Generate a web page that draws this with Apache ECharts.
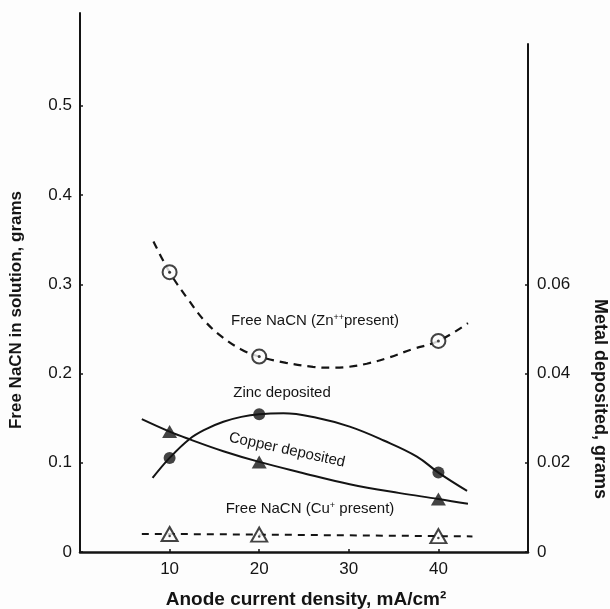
<!DOCTYPE html>
<html>
<head>
<meta charset="utf-8">
<script src="https://cdn.jsdelivr.net/npm/echarts@6/dist/echarts.min.js"></script>
<style>
html,body{margin:0;padding:0;background:#fdfdfd;}
#chart{width:610px;height:609px;}
</style>
</head>
<body>
<div id="chart"></div>
<script>
// ---- tick labels ----
const xTicks = [10, 20, 30, 40];
const leftTicks = [0, 0.1, 0.2, 0.3, 0.4, 0.5];
const rightTicks = [0, 0.02, 0.04, 0.06];

// ---- measured points (x = anode current density, mA/cm2) ----
const markX = [10, 20, 40];
const znFreeNaCN = [0.3136, 0.219, 0.2365];      // grams, left axis
const cuFreeNaCN = [0.0202, 0.0195, 0.0178];     // grams, left axis
const zincDeposited = [0.0211, 0.0309, 0.0178];  // grams, right axis
const copperDeposited = [0.0270, 0.0202, 0.0119];// grams, right axis

// ---- fitted curves as drawn ----
const znCurveX = [8.2, 10, 12, 14, 16, 18, 20, 23, 26, 28, 30, 32, 34.5, 37, 40, 43.3];
const znCurveY = [0.348, 0.3136, 0.284, 0.258, 0.240, 0.227, 0.219, 0.212, 0.2075, 0.2065, 0.2075, 0.211, 0.218, 0.227, 0.2365, 0.2564];
const cuCurveX = [6.9, 10, 20, 40, 43.8];
const cuCurveY = [0.0202, 0.0202, 0.0195, 0.0178, 0.0175];
const zincCurveX = [8.1, 10, 12.2, 14, 16, 18, 20, 22.7, 26.4, 30.1, 33.9, 37.6, 40, 43.2];
const zincCurveY = [0.0166, 0.0211, 0.0253, 0.0275, 0.0292, 0.0303, 0.0309, 0.0311, 0.0301, 0.0281, 0.0250, 0.0214, 0.0178, 0.0137];
const copperCurveX = [6.9, 10, 12.2, 16, 20, 24.5, 30.1, 35.7, 40, 43.3];
const copperCurveY = [0.0298, 0.0270, 0.0253, 0.0226, 0.0202, 0.0179, 0.0152, 0.0132, 0.0119, 0.0108];

const zip = (xs, ys) => xs.map((x, i) => [x, ys[i]]);
const INK = '#141414';
const FONT = '"Liberation Sans", Arial, Helvetica, sans-serif';

const chart = echarts.init(document.getElementById('chart'), null, {renderer: 'canvas'});

const baseAxisLine = {show: true, onZero: false, lineStyle: {color: INK, width: 2}};
const tickStyle = {show: true, inside: true, length: 3, lineStyle: {color: INK, width: 1.5}};

function txt(text, x, y, size, weight, rot, rich) {
  return {
    type: 'text', x: x, y: y, rotation: rot || 0, z: 50,
    style: {
      text: text, fill: INK,
      font: (weight || 'normal') + ' ' + size + 'px ' + FONT,
      fontFamily: FONT, fontSize: size, fontWeight: weight || 'normal',
      align: 'center', verticalAlign: 'middle',
      textAlign: 'center', textVerticalAlign: 'middle',
      rich: rich
    }
  };
}

const supRich = {
  s: {fontSize: 9, fontFamily: FONT, fill: INK, verticalAlign: 'top', lineHeight: 15}
};

const option = {
  backgroundColor: '#fdfdfd',
  animation: false,
  grid: [
    {left: 80, right: 82, top: 13, bottom: 57},
    {left: 80, right: 82, top: 44, bottom: 57}
  ],
  xAxis: [
    {
      gridIndex: 0, type: 'value', min: 0, max: 50, interval: 10,
      axisLine: {show: true, onZero: false, lineStyle: {color: INK, width: 2.5}},
      axisTick: Object.assign({}, tickStyle, {customValues: xTicks}),
      axisLabel: {customValues: xTicks, color: INK, fontSize: 17, fontFamily: FONT, margin: 9},
      splitLine: {show: false}
    },
    {gridIndex: 1, type: 'value', min: 0, max: 50, show: false,
     axisLine: {show: false, onZero: false}}
  ],
  yAxis: [
    {
      gridIndex: 0, type: 'value', position: 'left', min: 0, max: 0.604, interval: 0.1,
      axisLine: baseAxisLine,
      axisTick: Object.assign({}, tickStyle, {customValues: leftTicks}),
      axisLabel: {
        customValues: leftTicks, color: INK, fontSize: 17, fontFamily: FONT, margin: 8,
        formatter: v => (v === 0 ? '0' : v.toFixed(1))
      },
      splitLine: {show: false}
    },
    {
      gridIndex: 1, type: 'value', position: 'right', min: 0, max: 0.1139, interval: 0.02,
      axisLine: baseAxisLine,
      axisTick: Object.assign({}, tickStyle, {customValues: rightTicks}),
      axisLabel: {
        customValues: rightTicks, color: INK, fontSize: 17, fontFamily: FONT, margin: 9,
        formatter: v => (v === 0 ? '0' : v.toFixed(2))
      },
      splitLine: {show: false}
    }
  ],
  series: [
    // Free NaCN (Zn++ present) - dashed curve
    {type: 'line', xAxisIndex: 0, yAxisIndex: 0, data: zip(znCurveX, znCurveY), smooth: 0.4,
     showSymbol: false, symbol: 'none', lineStyle: {color: INK, width: 2.2, type: [8, 6]}, z: 2},
    {type: 'scatter', xAxisIndex: 0, yAxisIndex: 0, data: zip(markX, znFreeNaCN), symbol: 'circle',
     symbolSize: 14, itemStyle: {color: '#fdfdfd', borderColor: INK, borderWidth: 2}, z: 5},
    {type: 'scatter', xAxisIndex: 0, yAxisIndex: 0, data: zip(markX, znFreeNaCN), symbol: 'circle',
     symbolSize: 3, itemStyle: {color: INK}, z: 6},
    // Free NaCN (Cu+ present) - dashed line
    {type: 'line', xAxisIndex: 0, yAxisIndex: 0, data: zip(cuCurveX, cuCurveY), smooth: false,
     showSymbol: false, symbol: 'none', lineStyle: {color: INK, width: 2, type: [7, 6]}, z: 2},
    {type: 'scatter', xAxisIndex: 0, yAxisIndex: 0, data: zip(markX, cuFreeNaCN), symbol: 'triangle',
     symbolSize: [16, 14], itemStyle: {color: '#fdfdfd', borderColor: INK, borderWidth: 2}, z: 5},
    {type: 'scatter', xAxisIndex: 0, yAxisIndex: 0, data: zip(markX, cuFreeNaCN), symbol: 'circle',
     symbolSize: 2.5, symbolOffset: [0, 2], itemStyle: {color: INK}, z: 6},
    // Zinc deposited - solid curve, right axis
    {type: 'line', xAxisIndex: 1, yAxisIndex: 1, data: zip(zincCurveX, zincCurveY), smooth: 0.4,
     showSymbol: false, symbol: 'none', lineStyle: {color: INK, width: 2}, z: 2},
    {type: 'scatter', xAxisIndex: 1, yAxisIndex: 1, data: zip(markX, zincDeposited), symbol: 'circle',
     symbolSize: 12, itemStyle: {color: INK}, z: 5},
    // Copper deposited - solid curve, right axis
    {type: 'line', xAxisIndex: 1, yAxisIndex: 1, data: zip(copperCurveX, copperCurveY), smooth: 0.4,
     showSymbol: false, symbol: 'none', lineStyle: {color: INK, width: 2}, z: 2},
    {type: 'scatter', xAxisIndex: 1, yAxisIndex: 1, data: zip(markX, copperDeposited), symbol: 'triangle',
     symbolSize: [15, 13], itemStyle: {color: INK}, z: 5}
  ],
  graphic: [
    txt('Free NaCN in solution, grams', 16, 310, 17, 'bold', Math.PI / 2),
    txt('Metal deposited, grams', 600, 399, 18, 'bold', -Math.PI / 2),
    txt('Anode current density, mA/cm\u00B2', 306, 600, 19, 'bold', 0),
    txt('Free NaCN (Zn{s|++}present)', 315, 321, 15, 'normal', 0, supRich),
    txt('Zinc deposited', 282, 393, 15, 'normal', 0),
    txt('Copper deposited', 287, 450, 15, 'normal', -0.215),
    txt('Free NaCN (Cu{s|+} present)', 310, 509, 15, 'normal', 0, supRich)
  ]
};
chart.setOption(option);
</script>
</body>
</html>
